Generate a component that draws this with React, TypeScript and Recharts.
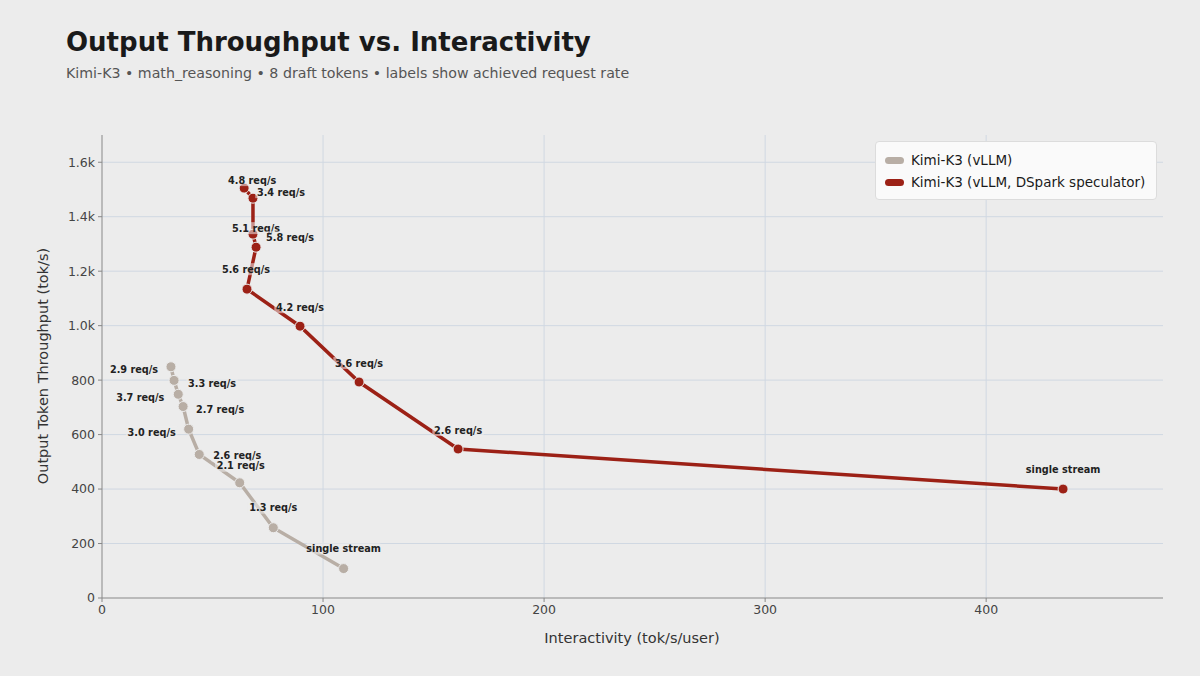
import React from 'react';
import { LineChart, Line, XAxis, YAxis, CartesianGrid, LabelList } from 'recharts';

// Kimi-K3 (vLLM) baseline, ordered along the curve
const vllmInteractivity = [31.2, 32.6, 34.5, 36.7, 39.2, 44.0, 62.3, 77.5, 109.3];
const vllmThroughput = [849, 799, 748, 703, 620, 527, 423, 258, 108];
const vllmLabels = ['2.9 req/s', '3.3 req/s', '3.7 req/s', '2.7 req/s', '3.0 req/s', '2.6 req/s', '2.1 req/s', '1.3 req/s', 'single stream'];

// Kimi-K3 (vLLM, DSpark speculator)
const dsparkInteractivity = [64.3, 68.3, 68.3, 69.7, 65.6, 89.6, 116.3, 161.1, 434.8];
const dsparkThroughput = [1505, 1468, 1336, 1288, 1134, 998, 793, 547, 400];
const dsparkLabels = ['4.8 req/s', '3.4 req/s', '5.1 req/s', '5.8 req/s', '5.6 req/s', '4.2 req/s', '3.6 req/s', '2.6 req/s', 'single stream'];

const xTicks = [0, 100, 200, 300, 400];
const yTicks = [0, 200, 400, 600, 800, 1000, 1200, 1400, 1600];

// label nudges (px) so annotations don't collide
const vllmNudge = [[-37, 3], [38, 3], [-38, 3], [37, 3], [-37, 3], [38, 1], [1, -17], [0, -20], [0, -20]];
const dsparkNudge = [[8, -8], [28, -6], [3, -6], [34, -10], [-1, -20], [0, -19], [0, -19], [0, -19], [0, -20]];

const FONT = '"DejaVu Sans", sans-serif';
const BG = '#ececec';
const GREY = '#b8aea5';
const RED = '#9c2116';

const toRows = (xs: number[], ys: number[], labels: string[]) =>
  xs.map((x, i) => ({ x, y: ys[i], label: labels[i] }));

const vllmData = toRows(vllmInteractivity, vllmThroughput, vllmLabels);
const dsparkData = toRows(dsparkInteractivity, dsparkThroughput, dsparkLabels);

const fmtY = (v: number) => (v >= 1000 ? `${(v / 1000).toFixed(1)}k` : `${v}`);

function makeLabel(nudge: number[][]) {
  return (props: any) => {
    const { x, y, value, index } = props;
    const [dx, dy] = nudge[index] || [0, -20];
    const w = String(value).length * 5.5 + 2;
    const cx = x + dx;
    const cy = y + dy;
    return (
      <g>
        <rect x={cx - w / 2} y={cy - 6} width={w} height={12} fill={BG} fillOpacity={0.55} />
        <text x={cx} y={cy} textAnchor="middle" dominantBaseline="central" fontFamily={FONT} fontSize={9.7} fontWeight="bold" fill="#222">
          {value}
        </text>
      </g>
    );
  };
}

function LegendBox() {
  const items = [
    { name: 'Kimi-K3 (vLLM)', color: GREY },
    { name: 'Kimi-K3 (vLLM, DSpark speculator)', color: RED },
  ];
  return (
    <div style={{ position: 'absolute', left: 875, top: 141, width: 282, height: 59, boxSizing: 'border-box', background: '#fafafa', border: '1px solid #dcdcdc', borderRadius: 4, padding: '7px 0 0 9px', fontFamily: FONT, fontSize: 13.5, color: '#1a1a1a' }}>
      {items.map((it) => (
        <div key={it.name} style={{ display: 'flex', alignItems: 'center', height: 22 }}>
          <span style={{ display: 'inline-block', width: 19, height: 7, borderRadius: 4, background: it.color, marginRight: 7 }} />
          {it.name}
        </div>
      ))}
    </div>
  );
}

export default function App() {
  return (
    <div style={{ position: 'absolute', left: 0, top: 0, width: 1200, height: 676, background: BG, fontFamily: FONT }}>
      <div style={{ position: 'absolute', left: 66, top: 27, fontSize: 26, fontWeight: 'bold', color: '#1a1a1a' }}>
        Output Throughput vs. Interactivity
      </div>
      <div style={{ position: 'absolute', left: 66, top: 65, fontSize: 14.2, color: '#555' }}>
        Kimi-K3 • math_reasoning • 8 draft tokens • labels show achieved request rate
      </div>
      <div style={{ position: 'absolute', left: 0, top: 0 }}>
        <LineChart width={1200} height={676} margin={{ top: 135, right: 37, bottom: 48, left: 0 }}>
          <CartesianGrid stroke="#d0d8e2" strokeWidth={1} horizontalValues={yTicks.slice(1)} verticalValues={xTicks.slice(1)} />
          <XAxis
            type="number"
            dataKey="x"
            domain={[0, 480]}
            ticks={xTicks}
            height={30}
            allowDataOverflow
            tick={{ fill: '#444', fontSize: 12.5, fontFamily: FONT }}
            tickSize={4}
            tickMargin={3}
            stroke="#888"
          />
          <YAxis
            type="number"
            dataKey="y"
            domain={[0, 1700]}
            ticks={yTicks}
            width={102}
            allowDataOverflow
            tickFormatter={fmtY}
            tick={{ fill: '#444', fontSize: 12.5, fontFamily: FONT }}
            tickSize={4}
            tickMargin={3}
            stroke="#888"
          />
          <Line
            data={vllmData}
            dataKey="y"
            name="Kimi-K3 (vLLM)"
            stroke={GREY}
            strokeWidth={3.5}
            dot={{ r: 5, fill: GREY, stroke: BG, strokeWidth: 1 }}
            activeDot={false}
            isAnimationActive={false}
          >
            <LabelList dataKey="label" content={makeLabel(vllmNudge)} />
          </Line>
          <Line
            data={dsparkData}
            dataKey="y"
            name="Kimi-K3 (vLLM, DSpark speculator)"
            stroke={RED}
            strokeWidth={3.5}
            dot={{ r: 5, fill: RED, stroke: BG, strokeWidth: 1 }}
            activeDot={false}
            isAnimationActive={false}
          >
            <LabelList dataKey="label" content={makeLabel(dsparkNudge)} />
          </Line>
        </LineChart>
      </div>
      <LegendBox />
      <div style={{ position: 'absolute', left: 0, top: 630, width: 1264, textAlign: 'center', fontSize: 14.5, color: '#333' }}>
        Interactivity (tok/s/user)
      </div>
      <div style={{ position: 'absolute', left: 43, top: 366, transform: 'translate(-50%, -50%) rotate(-90deg)', whiteSpace: 'nowrap', fontSize: 14.5, color: '#333' }}>
        Output Token Throughput (tok/s)
      </div>
    </div>
  );
}
